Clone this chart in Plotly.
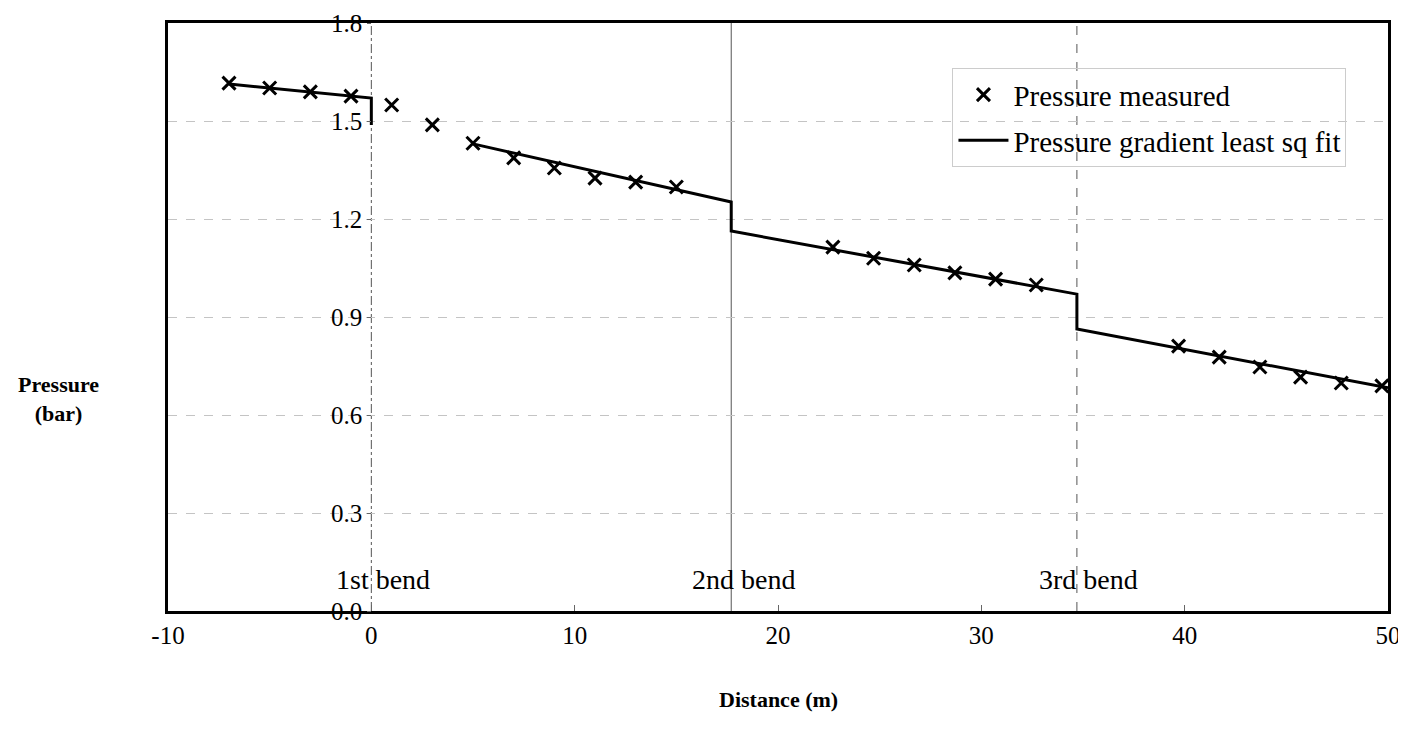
import plotly.graph_objects as go

# ---- data ----
measured_x = [-7, -5, -3, -1, 1, 3, 5, 7, 9, 11, 13, 15,
              22.7, 24.7, 26.7, 28.7, 30.7, 32.7,
              39.7, 41.7, 43.7, 45.7, 47.7, 49.7]
measured_p = [1.616, 1.601, 1.589, 1.576, 1.549, 1.488, 1.432, 1.387, 1.356, 1.325, 1.313, 1.298,
              1.114, 1.080, 1.059, 1.035, 1.016, 0.998,
              0.811, 0.777, 0.747, 0.716, 0.698, 0.689]

fit_x = [-7, 0, 0, None, 5, 17.7, 17.7, 34.7, 34.7, 50]
fit_p = [1.613, 1.570, 1.488, None, 1.430, 1.252, 1.163, 0.970, 0.863, 0.683]

bend_x = [0, 17.7, 34.7]
bend_labels = ["1st bend", "2nd bend", "3rd bend"]
bend_label_p = 0.095

x_range = [-10, 50]
y_range = [0, 1.8]
x_ticks = [-10, 0, 10, 20, 30, 40, 50]
x_tick_text = ["-10", "0", "10", "20", "30", "40", "50"]
y_ticks = [0.0, 0.3, 0.6, 0.9, 1.2, 1.5, 1.8]

FONT = "Liberation Serif"

fig = go.Figure()

fig.add_trace(go.Scatter(
    x=measured_x, y=measured_p, mode="markers", name="Pressure measured",
    legendgroup="a", yaxis="y2",
    marker=dict(symbol="x-thin", size=13, color="black",
                line=dict(width=3, color="black")),
))
fig.add_trace(go.Scatter(
    x=fit_x, y=fit_p, mode="lines", name="Pressure gradient least sq fit",
    legendgroup="b", connectgaps=False,
    line=dict(color="black", width=3),
))

bend_styles = ["dashdot", "solid", "dash"]
for bx, dash in zip(bend_x, bend_styles):
    fig.add_vline(x=bx, line=dict(color="#555", width=1, dash=dash), layer="below")

for bx, lab in zip(bend_x, bend_labels):
    fig.add_annotation(x=bx, y=bend_label_p, text=lab, showarrow=False, xshift=12,
                       font=dict(family=FONT, size=28, color="black"))

axis_cross = (0 - x_range[0]) / (x_range[1] - x_range[0])

# the page body adds an 8px offset; the figure is sized to compensate
fig.update_layout(
    width=1398, height=730,
    margin=dict(l=160, r=18, t=15, b=127),
    paper_bgcolor="white", plot_bgcolor="white",
    font=dict(family=FONT, size=25, color="black"),
    showlegend=True,
    legend=dict(x=0.643, y=0.923, xanchor="left", yanchor="top",
                bgcolor="rgba(255,255,255,0)", bordercolor="#ccc", borderwidth=1,
                font=dict(family=FONT, size=29, color="black"),
                tracegroupgap=5, traceorder="grouped", itemwidth=50),
    xaxis=dict(range=x_range, tickvals=x_ticks, ticktext=x_tick_text,
               showgrid=False, zeroline=False, automargin=False,
               showline=True, linecolor="black", linewidth=3, mirror=True,
               ticks="inside", ticklen=6, tickcolor="#666",
               tickfont=dict(family=FONT, size=25), ticklabelstandoff=0),
    yaxis=dict(range=y_range, tickvals=y_ticks, showticklabels=False,
               showgrid=True, gridcolor="#c4c4c4", griddash="dash", gridwidth=1,
               zeroline=False, showline=True, linecolor="black", linewidth=3,
               mirror=True, ticks="", automargin=False),
    yaxis2=dict(range=y_range, tickvals=y_ticks, tickformat=".1f",
                overlaying="y", anchor="free", position=axis_cross, side="left",
                showgrid=False, zeroline=False, showline=False, automargin=False,
                ticks="outside", ticklen=4, tickcolor="#666",
                tickfont=dict(family=FONT, size=25)),
)

fig.add_annotation(xref="paper", yref="paper", x=-0.09, y=0.36,
                   xanchor="center", yanchor="middle",
                   text="<b>Pressure</b><br><b>(bar)</b>", showarrow=False,
                   font=dict(family=FONT, size=22, color="black"), align="center")
fig.add_annotation(xref="paper", yref="paper", x=0.5, y=-0.15,
                   text="<b>Distance (m)</b>", showarrow=False,
                   xanchor="center", yanchor="middle",
                   font=dict(family=FONT, size=22, color="black"))

fig.write_html("out.html")
